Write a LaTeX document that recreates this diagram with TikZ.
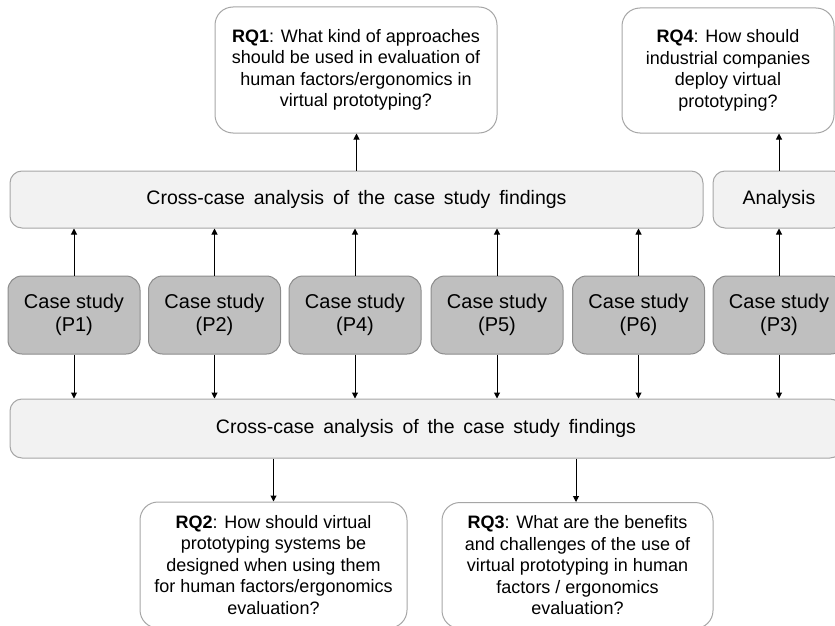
\documentclass[tikz,border=0pt]{standalone}
\usepackage{fontspec}
\setmainfont{Liberation Sans}
\usetikzlibrary{arrows.meta}
\definecolor{edgegray}{HTML}{A6A6A6}
\definecolor{barfill}{HTML}{F2F2F2}
\definecolor{casefill}{HTML}{BFBFBF}
\definecolor{caseedge}{HTML}{8C8C8C}
% slightly wider word spaces for the bar captions
\newcommand\widewords{\spaceskip=0.45em\relax}
\begin{document}
\begin{tikzpicture}[x=1pt,y=-1pt,
  rqbox/.style={draw=edgegray, fill=white, line width=1pt, rounded corners=18pt,
    align=center, inner sep=0pt, font=\fontsize{18}{21.5}\selectfont},
  barbox/.style={draw=edgegray, fill=barfill, line width=1pt, rounded corners=12pt,
    inner sep=0pt, font=\fontsize{19.5}{23}\selectfont},
  casebox/.style={draw=caseedge, fill=casefill, line width=1pt, rounded corners=14pt,
    align=center, inner sep=0pt, minimum width=132pt, minimum height=78pt,
    font=\fontsize{20}{23}\selectfont},
  flow/.style={-{Triangle[length=6pt,width=6pt]}, line width=1pt, black}]
\useasboundingbox (0,0) rectangle (835,626);
\clip (0,0) rectangle (835,626);

% research questions, top row
\node[rqbox, minimum width=282pt, minimum height=126pt] (rq1) at (356,70)
  {\textbf{RQ1}: What kind of approaches\\should be used in evaluation of\\human factors/ergonomics in\\virtual prototyping?};
\node[rqbox, minimum width=212pt, minimum height=125pt] (rq4) at (728,70.5)
  {\textbf{RQ4}: How should\\industrial companies\\deploy virtual\\prototyping?};

% analysis bars above the cases
\node[barbox, minimum width=693pt, minimum height=57pt] (topbar) at (356.5,199.5)
  {\widewords Cross-case analysis of the case study findings};
\node[barbox, minimum width=132pt, minimum height=57pt] (analysis) at (779,199.5)
  {Analysis};

% case studies
\node[casebox] (p1) at (74,315)    {Case study\\(P1)};
\node[casebox] (p2) at (214.5,315) {Case study\\(P2)};
\node[casebox] (p4) at (355,315)   {Case study\\(P4)};
\node[casebox] (p5) at (497,315)   {Case study\\(P5)};
\node[casebox] (p6) at (638.5,315) {Case study\\(P6)};
\node[casebox] (p3) at (779,315)   {Case study\\(P3)};

% analysis bar below the cases
\node[barbox, minimum width=832pt, minimum height=59pt] (botbar) at (426,428.5)
  {\widewords Cross-case analysis of the case study findings};

% research questions, bottom row
\node[rqbox, minimum width=267pt, minimum height=126pt] (rq2) at (273.5,565)
  {\textbf{RQ2}: How should virtual\\prototyping systems be\\designed when using them\\for human factors/ergonomics\\evaluation?};
\node[rqbox, minimum width=271pt, minimum height=126pt] (rq3) at (577.5,565.5)
  {\textbf{RQ3}: What are the benefits\\and challenges of the use of\\virtual prototyping in human\\factors / ergonomics\\evaluation?};

% connectors: cases up to the upper analyses
\foreach \c in {p1,p2,p4,p5,p6}
  \draw[flow] (\c.north) -- (\c.north |- topbar.south);
\draw[flow] (p3.north) -- (p3.north |- analysis.south);

% connectors: cases down to the lower analysis
\foreach \c in {p1,p2,p4,p5,p6,p3}
  \draw[flow] (\c.south) -- (\c.south |- botbar.north);

% connectors: analyses to research questions
\draw[flow] (topbar.north) -- (topbar.north |- rq1.south);
\draw[flow] (analysis.north) -- (analysis.north |- rq4.south);
\draw[flow] (rq2.north |- botbar.south) -- (rq2.north);
\draw[flow] ([xshift=-1.5pt]rq3.north |- botbar.south) -- ([xshift=-1.5pt]rq3.north);
\end{tikzpicture}
\end{document}
